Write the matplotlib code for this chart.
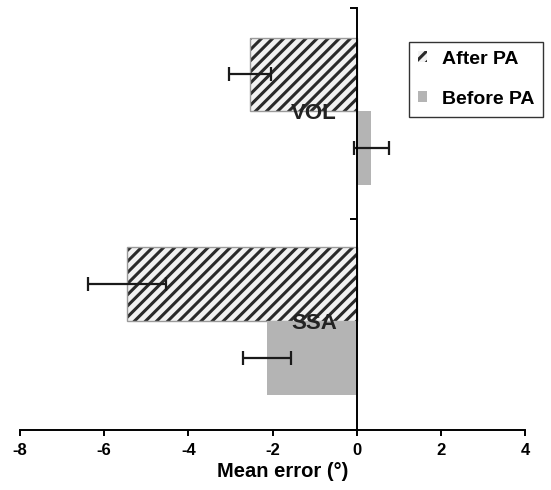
import matplotlib
matplotlib.use('Agg')
import matplotlib.pyplot as plt

plt.rcParams['font.family'] = ['Liberation Sans', 'DejaVu Sans']
plt.rcParams['font.weight'] = 'bold'
plt.rcParams['hatch.linewidth'] = 2.2

categories = ['VOL', 'SSA']
after_pa = [-2.53, -5.46]
after_err = [0.50, 0.93]
before_pa = [0.35, -2.12]
before_err = [0.42, 0.57]
xticks = [-8, -6, -4, -2, 0, 2, 4]

pos = [1.51, 0.515]
h = 0.35

fig = plt.figure(figsize=(5.51, 4.90), dpi=100)
ax = fig.add_axes([20/551, 60/490, 505/551, 422/490])

after_y = [p + h/2 for p in pos]
before_y = [p - h/2 for p in pos]

ax.barh(after_y, after_pa, height=h, color='#f2f2f2', edgecolor='#2a2a2a',
        hatch='///', linewidth=0, label='After PA')
ax.barh(after_y, after_pa, height=h, color='none', edgecolor='#9a9a9a', linewidth=1)
ax.barh(before_y, before_pa, height=h, color='#b4b4b4', linewidth=0, label='Before PA')

ax.errorbar(after_pa, after_y, xerr=after_err, fmt='none', ecolor='#1a1a1a',
            elinewidth=1.6, capsize=5, capthick=1.6)
ax.errorbar(before_pa, before_y, xerr=before_err, fmt='none', ecolor='#1a1a1a',
            elinewidth=1.6, capsize=5, capthick=1.6)

for p, c in zip(pos, categories):
    ax.text(-0.47, p - 0.01, c, ha='right', va='center', fontsize=16,
            fontweight='bold', color='#222222')

ax.set_xlim(-8, 4)
ax.set_ylim(0, 2)
ax.set_xticks(xticks)
ax.set_xticklabels([str(t) for t in xticks], fontsize=12, fontweight='bold')
ax.set_yticks([0, 1, 2])
ax.set_yticklabels([])
ax.set_xlabel('Mean error (°)', fontsize=14.5, fontweight='bold')
ax.xaxis.set_label_coords(0.521, -0.075)

ax.spines['top'].set_visible(False)
ax.spines['right'].set_visible(False)
ax.spines['left'].set_position(('data', 0))
ax.spines['left'].set_linewidth(1.4)
ax.spines['bottom'].set_linewidth(1.4)
ax.tick_params(axis='x', direction='out', length=4, width=1.4, pad=5)
ax.tick_params(axis='y', direction='out', length=5, width=1.4)

leg = ax.legend(loc='upper right', bbox_to_anchor=(1.036, 0.92), fontsize=14,
                frameon=True, fancybox=False, handlelength=0.5, handleheight=0.5,
                labelspacing=1.2, borderpad=0.45, handletextpad=0.75,
                borderaxespad=0, edgecolor='black')
leg.get_frame().set_linewidth(1.0)
for t in leg.get_texts():
    t.set_fontweight('bold')

fig.savefig('out.png', dpi=100)
